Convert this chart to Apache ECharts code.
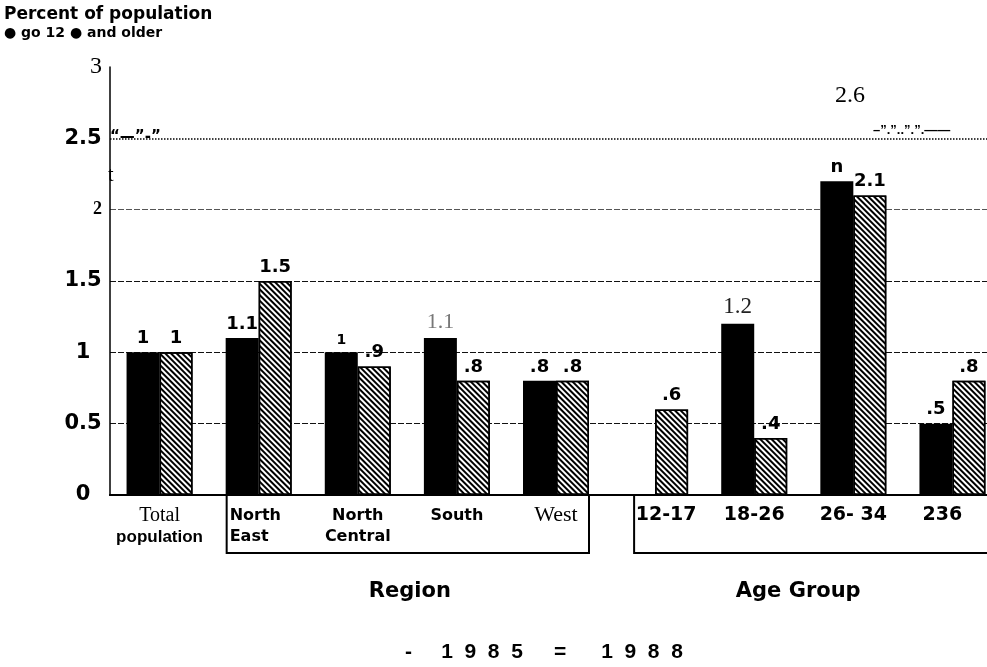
<!DOCTYPE html>
<html>
<head>
<meta charset="utf-8">
<script src="https://cdn.jsdelivr.net/npm/echarts@6/dist/echarts.min.js"></script>
<style>html,body{margin:0;padding:0;background:#fff}#c{width:987px;height:667px}</style>
</head>
<body>
<div id="c"></div>
<script>
// ---- data ----
const categories = ['Total\npopulation', 'North\nEast', 'North\nCentral', 'South', 'West', '12-17', '18-26', '26- 34', '236'];
const values1985 = [1, 1.1, 1, 1.1, 0.8, null, 1.2, 2.2, 0.5];
const values1988 = [1, 1.5, 0.9, 0.8, 0.8, 0.6, 0.4, 2.1, 0.8];
const labels1985 = ['1', '1.1', '1', '1.1', '.8', '', '1.2', 'n', '.5'];
const labels1988 = ['1', '1.5', '.9', '.8', '.8', '.6', '.4', '2.1', '.8'];
const yTickValues = [0, 0.5, 1, 1.5, 2, 2.5, 3];
const yTickLabels = ['0', '0.5', '1', '1.5', '2', '2.5', '3'];
const seriesNames = ['1985', '1988'];
const groupTitles = ['Region', 'Age Group'];

// ---- styles (not data) ----
const SANS = 'Liberation Sans, Arial, sans-serif';
const WIDE = 'DejaVu Sans, Verdana, sans-serif';
const SERIF = 'Liberation Serif, Times New Roman, serif';
const catStyle = ['tot', 'left', 'b', 'b', 'west', 'agel', 'age', 'age', 'ager'];
const lab85Style = ['b', 'b', 'small', 'serifGrey', 'b', 'b', 'serif', 'b', 'b'];

const chart = echarts.init(document.getElementById('c'));

const option = {
  backgroundColor: '#fff',
  animation: false,
  title: {
    text: 'Percent of population',
    subtext: '\u25CF go 12 \u25CF and older',
    left: 2, top: 4, itemGap: 3, padding: [2, 2, 2, 2],
    textStyle: { fontFamily: WIDE, fontWeight: 'bold', fontSize: 17, color: '#000' },
    subtextStyle: { fontFamily: WIDE, fontWeight: 'bold', fontSize: 14, color: '#000' }
  },
  legend: {
    data: seriesNames,
    left: 394, top: 637,
    itemWidth: 1, itemHeight: 1, itemGap: 24,
    icon: 'rect',
    itemStyle: { opacity: 0 },
    selectedMode: false,
    formatter: n => (n === '1985' ? '-     1  9  8  5' : '=      1  9  8  8'),
    textStyle: { fontFamily: SANS, fontWeight: 'bold', fontSize: 21, color: '#000' }
  },
  grid: { left: 110, width: 892, top: 67, bottom: 172, containLabel: false, outerBoundsMode: 'none' },
  xAxis: [{
    type: 'category',
    data: categories,
    axisLine: { lineStyle: { color: '#000', width: 2 } },
    axisTick: { show: false },
    axisLabel: {
      interval: 0, margin: 10, color: '#000',
      formatter: (v, i) => {
        const lines = v.split('\n');
        const s = catStyle[i];
        if (s === 'tot') return '{serif|' + lines[0] + '}\n{pop|' + lines[1] + '}';
        return lines.map(l => '{' + s + '|' + l + '}').join('\n');
      },
      rich: {
        b: { fontFamily: WIDE, fontWeight: 'bold', fontSize: 16, lineHeight: 21, color: '#000' },
        left: { fontFamily: WIDE, fontWeight: 'bold', fontSize: 16, lineHeight: 21, color: '#000', width: 58, align: 'left' },
        pop: { fontFamily: SANS, fontWeight: 'bold', fontSize: 17, lineHeight: 23, color: '#000' },
        serif: { fontFamily: SERIF, fontSize: 20, lineHeight: 21, color: '#000' },
        west: { fontFamily: SERIF, fontSize: 22, lineHeight: 21, color: '#000' },
        age: { fontFamily: WIDE, fontWeight: 'bold', fontSize: 19, lineHeight: 21, color: '#000' },
        agel: { fontFamily: WIDE, fontWeight: 'bold', fontSize: 19, lineHeight: 21, color: '#000', padding: [0, 0, 0, 22] },
        ager: { fontFamily: WIDE, fontWeight: 'bold', fontSize: 19, lineHeight: 21, color: '#000', padding: [0, 20, 0, 0] }
      }
    }
  }, {
    type: 'category',
    data: categories,
    position: 'top',
    axisLine: { lineStyle: { color: '#000', width: 2 } },
    axisTick: { show: false },
    axisLabel: { show: false }
  }],
  yAxis: [{
    type: 'value', min: 0, max: 3, interval: 0.5,
    axisLine: { show: true, lineStyle: { color: '#000', width: 1.5 } },
    axisTick: { show: false },
    splitLine: {
      show: true,
      lineStyle: { type: [6, 2], width: 1, color: ['transparent', '#111', '#111', '#111', '#555', 'transparent', 'transparent'] }
    },
    axisLabel: {
      align: 'right', margin: 8,
      formatter: v => {
        const t = yTickLabels[yTickValues.indexOf(v)];
        if (v === 3) return '{s|' + t + '}';
        if (v === 2) return '{t|' + t + '}';
        return '{b|' + t + '}';
      },
      rich: {
        b: { fontFamily: WIDE, fontWeight: 'bold', fontSize: 21, color: '#000', width: 38, align: 'center' },
        s: { fontFamily: SERIF, fontSize: 24, color: '#000', width: 38, align: 'right' },
        t: { fontFamily: SERIF, fontWeight: 'bold', fontSize: 18, color: '#000', width: 38, align: 'right' }
      }
    }
  }, {
    type: 'value', min: 0, max: 3, interval: 2.5,
    position: 'left',
    axisLine: { show: false }, axisTick: { show: false }, axisLabel: { show: false },
    splitLine: { show: true, lineStyle: { type: 'dotted', width: 1.5, color: ['transparent', '#000', 'transparent'] } }
  }],
  series: [{
    name: '1985', type: 'bar', data: values1985,
    barWidth: 33, barGap: '0%',
    itemStyle: { color: '#000' },
    label: {
      show: true, position: 'top', distance: 5,
      formatter: p => labels1985[p.dataIndex] ? '{' + lab85Style[p.dataIndex] + '|' + labels1985[p.dataIndex] + '}' : '',
      rich: {
        b: { fontFamily: WIDE, fontWeight: 'bold', fontSize: 18, color: '#000' },
        small: { fontFamily: WIDE, fontWeight: 'bold', fontSize: 14, color: '#000' },
        serif: { fontFamily: SERIF, fontSize: 23, color: '#222' },
        serifGrey: { fontFamily: SERIF, fontSize: 22, color: '#777' }
      }
    }
  }, {
    name: '1988', type: 'bar', data: values1988,
    barWidth: 33,
    itemStyle: {
      color: '#fff', borderColor: '#000', borderWidth: 1.5,
      decal: { symbol: 'rect', dashArrayX: [1, 0], dashArrayY: [1.6, 2], rotation: Math.PI / 4, color: '#000' }
    },
    label: {
      show: true, position: 'top', distance: 5,
      formatter: p => labels1988[p.dataIndex],
      fontFamily: WIDE, fontWeight: 'bold', fontSize: 18, color: '#000'
    }
  }]
};
chart.setOption(option);

// group boxes and titles, positioned from the axis scale
const cx = i => chart.convertToPixel({ xAxisIndex: 0 }, i);
const y0 = chart.convertToPixel({ yAxisIndex: 0 }, 0);
const yb = y0 + 58;
const rL = cx(1) - 32, rR = cx(4) + 33, aL = cx(5) - 21, aR = 1000;
chart.setOption({
  graphic: [
    { type: 'polyline', shape: { points: [[rL, y0], [rL, yb], [rR, yb], [rR, y0]] }, style: { stroke: '#000', lineWidth: 2, fill: null } },
    { type: 'polyline', shape: { points: [[aL, y0], [aL, yb], [aR, yb]] }, style: { stroke: '#000', lineWidth: 2, fill: null } },
    { type: 'text', x: (rL + rR) / 2 + 2, y: 592, style: { text: groupTitles[0], font: 'bold 21px ' + WIDE, fill: '#000', align: 'center', verticalAlign: 'middle' } },
    { type: 'text', x: cx(6) + 44, y: 592, style: { text: groupTitles[1], font: 'bold 21px ' + WIDE, fill: '#000', align: 'center', verticalAlign: 'middle' } },
    { type: 'text', x: 110, y: 137, style: { text: '\u201C\u2014\u201D-\u201D', font: 'bold 15px ' + WIDE, fill: '#000', verticalAlign: 'middle' } },
    { type: 'text', x: 873, y: 130, style: { text: '\u2013\u201D.\u201D..\u201D.\u201D.\u2014\u2014', font: 'bold 13px ' + SANS, fill: '#000', verticalAlign: 'middle' } },
    { type: 'text', x: 850, y: 96, style: { text: '2.6', font: '24px ' + SERIF, fill: '#000', align: 'center', verticalAlign: 'middle' } },
    { type: 'text', x: 108, y: 176, style: { text: 't', font: '20px ' + SERIF, fill: '#000', verticalAlign: 'middle' } }
  ]
});
</script>
</body>
</html>
